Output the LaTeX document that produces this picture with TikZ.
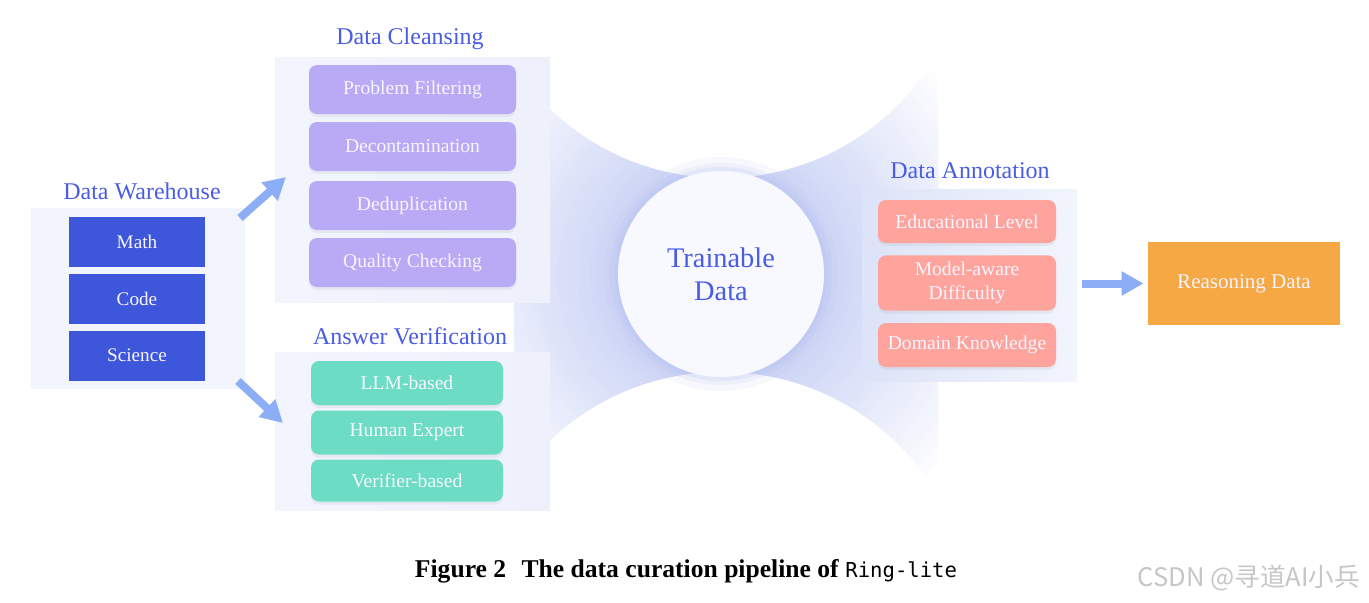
\documentclass[tikz,border=0pt]{standalone}
\usepackage{fontspec}
\setmainfont{Liberation Serif}
\setmonofont{DejaVu Sans Mono}
\newfontfamily\cjk{Noto Sans CJK SC}
\usepackage{xcolor}
\usetikzlibrary{arrows.meta,shadows}

\definecolor{whblue}{HTML}{3D56DA}
\definecolor{clpurple}{HTML}{B9AAF6}
\definecolor{avteal}{HTML}{6CDCC5}
\definecolor{ansalmon}{HTML}{FFA49D}
\definecolor{rdorange}{HTML}{F5A843}
\definecolor{arrowblue}{HTML}{8CAEF7}
\definecolor{panelbg}{HTML}{F2F5FD}
\definecolor{titleblue}{HTML}{4A5CE2}
\definecolor{boxtext}{HTML}{F7F5FF}
\definecolor{circfill}{HTML}{F8F9FE}
\definecolor{glowA}{HTML}{CBD3F5}
\definecolor{glowB}{HTML}{DDE3F8}
\definecolor{glowC}{HTML}{EEF1FC}
\definecolor{ringblue}{HTML}{B3BFF1}

\begin{document}
\begin{tikzpicture}[x=0.5pt,y=-0.5pt,
    panel/.style={fill=panelbg, inner sep=0pt, minimum width=137.5pt},
    paneltitle/.style={text=titleblue, font=\fontsize{12}{14}\selectfont},
    whbox/.style={fill=whblue, text=boxtext, minimum width=68pt, minimum height=25pt, font=\fontsize{9.6}{12}\selectfont},
    softbox/.style={rounded corners=4pt, text=boxtext, align=center, font=\fontsize{9.8}{12}\selectfont,
      drop shadow={opacity=0.10, shadow xshift=0pt, shadow yshift=-1.5pt}},
    fatarrow/.style={draw=arrowblue, line width=4pt, -{Triangle[width=11.5pt,length=11pt]}}]
    \useasboundingbox (0,0) rectangle (1369,602);
    % Glow behind the circle
    \begin{scope}
      \clip (514,57) rectangle (938,510);
      \foreach \i [evaluate=\i as \r using 300-6.5*\i, evaluate=\i as \p using int(\i*100/30)] in {0,...,30}
        \fill[glowA!\p!white] (721,274) circle (\r);
      \fill[white] (722,-70) circle (248);
      \fill[white] (722,622) circle (250);
    \end{scope}
    \foreach \w/\o in {14/0.10,8/0.14,4/0.18}
      \draw[ringblue, opacity=\o, line width=\w pt] (721,274) circle (103);
    % Trainable data
    \node[circle, fill=circfill, minimum size=103pt, inner sep=0pt, text=titleblue, align=center,
      font=\fontsize{14.2}{16.5}\selectfont] (train) at (721,274) {Trainable\\Data};

    % Data warehouse
    \node[panel, minimum width=107pt, minimum height=90.5pt] (whpanel) at (138,298.5) {};
    \node[paneltitle] (whtitle) at (142,191) {Data Warehouse};
    \node[whbox] (math) at (137,242) {Math};
    \node[whbox] (code) at (137,298.5) {Code};
    \node[whbox] (science) at (137,355.5) {Science};

    % Data cleansing
    \node[panel, minimum height=122.5pt, left color=panelbg, right color=glowC] (clpanel) at (412.5,179.5) {};
    \node[paneltitle] (cltitle) at (410,39) {Data Cleansing};
    \node[softbox, fill=clpurple, minimum width=103.5pt, minimum height=24.5pt] (filter) at (412.5,89.5) {Problem Filtering};
    \node[softbox, fill=clpurple, minimum width=103.5pt, minimum height=24.5pt] (decon) at (412.5,146.5) {Decontamination};
    \node[softbox, fill=clpurple, minimum width=103.5pt, minimum height=24.5pt] (dedup) at (412.5,205.5) {Deduplication};
    \node[softbox, fill=clpurple, minimum width=103.5pt, minimum height=24.5pt] (quality) at (412.5,262.5) {Quality Checking};

    % Answer verification
    \node[panel, minimum height=79pt, left color=panelbg, right color=glowC] (avpanel) at (412.5,431) {};
    \node[paneltitle] (avtitle) at (410,336) {Answer Verification};
    \node[softbox, fill=avteal, minimum width=96pt, minimum height=22pt] (llm) at (407,383) {LLM-based};
    \node[softbox, fill=avteal, minimum width=96pt, minimum height=22pt] (human) at (407,432.5) {Human Expert};
    \node[softbox, fill=avteal, minimum width=96pt, minimum height=21pt] (verifier) at (407,480.5) {Verifier-based};

    % Data annotation
    \node[panel, minimum width=107.5pt, minimum height=96pt, left color=glowB, right color=panelbg] (anpanel) at (969.5,285) {};
    \node[paneltitle] (antitle) at (970,171) {Data Annotation};
    \node[softbox, fill=ansalmon, minimum width=89pt, minimum height=21.5pt] (edu) at (967,221.5) {Educational Level};
    \node[softbox, fill=ansalmon, minimum width=89pt, minimum height=27pt] (aware) at (967,283) {Model-aware\\Difficulty};
    \node[softbox, fill=ansalmon, minimum width=89pt, minimum height=22pt] (domain) at (967,345) {Domain Knowledge};

    % Reasoning data
    \node[fill=rdorange, text=boxtext, minimum width=96pt, minimum height=41.5pt,
      font=\fontsize{10.5}{12}\selectfont] (reason) at (1244,283.5) {Reasoning Data};

    % Arrows
    \coordinate (whup) at (240,218);
    \coordinate (clin) at (286,177);
    \coordinate (whdown) at (238,381);
    \coordinate (avin) at (283,423);
    \draw[fatarrow] (whup) -- (clin);
    \draw[fatarrow] (whdown) -- (avin);
    \draw[fatarrow, shorten <=2.5pt, shorten >=2pt] (anpanel.east |- reason) -- (reason.west);

    % Caption and mark
    \node[font=\fontsize{12.8}{15}\selectfont\bfseries] (caption) at (686,571)
      {Figure 2\hspace{0.6em}The data curation pipeline of \texttt{\mdseries\fontsize{10.3}{15}\selectfont Ring-lite}};
    \node[anchor=east, text=gray!45, font=\cjk\fontsize{12.8}{15}\selectfont] (mark) at (1367,578) {CSDN @寻道AI小兵};
  \end{tikzpicture}
\end{document}
